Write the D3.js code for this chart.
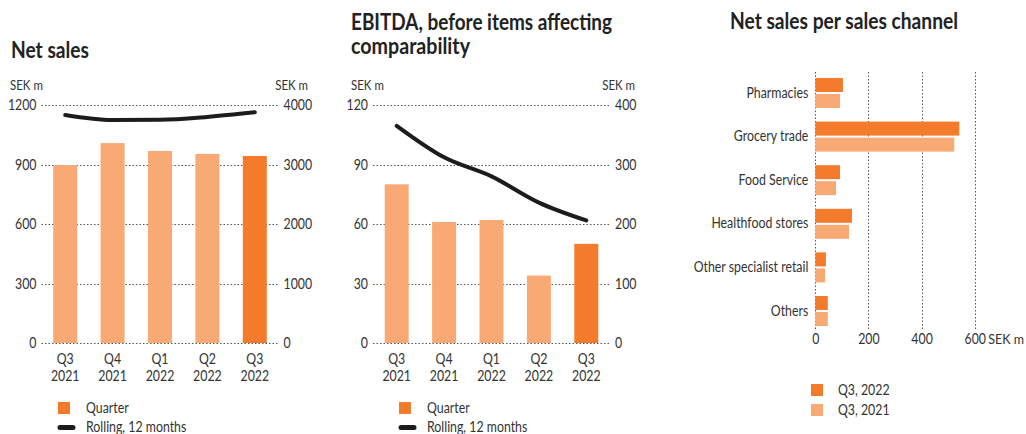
<!DOCTYPE html>
<html><head><meta charset="utf-8">
<script src="https://cdn.jsdelivr.net/npm/d3@7"></script>
<style>
body{margin:0;background:#fff}
svg text{font-family:"Lato",sans-serif;fill:#333}
.title{font-weight:bold;fill:#222;font-size:22px}
</style>
</head><body><svg id="c" width="1026" height="434"></svg>
<script>
// ---- data ----
const quarters = ["Q3 2021","Q4 2021","Q1 2022","Q2 2022","Q3 2022"];
const netSalesQuarter = [897, 1008, 968, 953, 943];
const netSalesRolling = [3832, 3748, 3752, 3800, 3877];
const netSalesLeftTicks = [0, 300, 600, 900, 1200];
const netSalesRightTicks = [0, 1000, 2000, 3000, 4000];
const ebitdaQuarter = [80, 61, 62, 34, 50];
const ebitdaRolling = [365, 312, 280, 236, 206];
const ebitdaLeftTicks = [0, 30, 60, 90, 120];
const ebitdaRightTicks = [0, 100, 200, 300, 400];
const channels = ["Pharmacies","Grocery trade","Food Service","Healthfood stores","Other specialist retail","Others"];
const channelQ3_2022 = [104, 542, 93, 138, 40, 47];
const channelQ3_2021 = [93, 523, 78, 127, 37, 47];
const channelTicks = [0, 200, 400, 600];
const seriesNames = ["Q3, 2022", "Q3, 2021"];

const DARK = "#F47B2B", LIGHT = "#F9A974", LINE = "#1c1c1c", GRID = "#555";
const svg = d3.select("#c");
const fmt = d3.format("d");

function title(g, x, ys, lines, ws) {
  const t = g.append("text").attr("class", "title");
  lines.forEach((s, i) => t.append("tspan").attr("x", x).attr("y", ys[i])
    .attr("textLength", ws[i]).attr("lengthAdjust", "spacingAndGlyphs").text(s));
}

function combo(cfg) {
  const g = svg.append("g");
  const x = d3.scaleBand().domain(quarters).range(cfg.xr).paddingInner(0.494).paddingOuter(0.247);
  const yL = d3.scaleLinear().domain([0, cfg.lmax]).range([343, 105]);
  const yR = d3.scaleLinear().domain([0, cfg.rmax]).range([343, 105]);
  title(g, cfg.tx, cfg.ty, cfg.title, cfg.tw);
  g.append("text").attr("x", cfg.unitL).attr("y", 85).attr("dy", "0.35em").attr("font-size", 13.5).text("SEK m");
  g.append("text").attr("x", cfg.unitR).attr("y", 85).attr("dy", "0.35em").attr("font-size", 13.5).attr("text-anchor", "end").text("SEK m");
  g.selectAll(".grid").data(cfg.lticks).join("line")
    .attr("x1", cfg.xr[0]).attr("x2", cfg.xr[1] - 1)
    .attr("y1", d => Math.round(yL(d)) + 0.5).attr("y2", d => Math.round(yL(d)) + 0.5)
    .attr("stroke", GRID).attr("stroke-width", 1).attr("stroke-dasharray", "1.5,2");
  const al = g.append("g").attr("transform", `translate(${cfg.xr[0]},0)`)
    .call(d3.axisLeft(yL).tickValues(cfg.lticks).tickFormat(fmt).tickSize(0).tickPadding(5));
  const ar = g.append("g").attr("transform", `translate(${cfg.xr[1] - 1},0)`)
    .call(d3.axisRight(yR).tickValues(cfg.rticks).tickFormat(fmt).tickSize(0).tickPadding(6));
  [al, ar].forEach(a => {
    a.select(".domain").remove();
    a.attr("font-family", null).attr("font-size", null);
    a.selectAll("text").attr("font-size", 14.5).style("fill", "#333");
  });
  g.selectAll(".bar").data(cfg.bars).join("rect")
    .attr("x", (d, i) => x(quarters[i])).attr("width", x.bandwidth())
    .attr("y", d => yL(d)).attr("height", d => yL(0) - yL(d))
    .attr("fill", (d, i) => i === quarters.length - 1 ? DARK : LIGHT);
  const line = d3.line().x((d, i) => x(quarters[i]) + x.bandwidth() / 2).y(d => yR(d)).curve(d3.curveMonotoneX);
  g.append("path").datum(cfg.line).attr("d", line).attr("fill", "none")
    .attr("stroke", LINE).attr("stroke-width", 4).attr("stroke-linecap", "round").attr("stroke-linejoin", "round");
  [0, 1].forEach(k => {
    g.selectAll(".xl" + k).data(quarters).join("text")
      .attr("text-anchor", "middle").attr("font-size", 14.5)
      .attr("x", d => x(d) + x.bandwidth() / 2).attr("y", k ? 376 : 359).attr("dy", "0.35em")
      .text(d => d.split(" ")[k]);
  });
  g.append("rect").attr("x", cfg.lgx).attr("y", 402).attr("width", 12).attr("height", 12).attr("fill", DARK);
  g.append("text").attr("x", cfg.lgx + 28).attr("y", 408).attr("dy", "0.35em").attr("font-size", 14.5).text("Quarter");
  g.append("line").attr("x1", cfg.lgx + 2).attr("x2", cfg.lgx + 15).attr("y1", 427.5).attr("y2", 427.5)
    .attr("stroke", LINE).attr("stroke-width", 5).attr("stroke-linecap", "round");
  g.append("text").attr("x", cfg.lgx + 28).attr("y", 427).attr("dy", "0.35em").attr("font-size", 14.5).text("Rolling, 12 months");
}

combo({ xr: [41.5, 278.5], lmax: 1200, rmax: 4000, lticks: netSalesLeftTicks, rticks: netSalesRightTicks,
  bars: netSalesQuarter, line: netSalesRolling, title: ["Net sales"], tx: 11, ty: [58], tw: [78],
  unitL: 10, unitR: 308, lgx: 58 });
combo({ xr: [373, 610], lmax: 120, rmax: 400, lticks: ebitdaLeftTicks, rticks: ebitdaRightTicks,
  bars: ebitdaQuarter, line: ebitdaRolling, title: ["EBITDA, before items affecting", "comparability"], tx: 351, ty: [30, 54], tw: [261, 119],
  unitL: 351, unitR: 635, lgx: 399 });

// ---- channel chart ----
(function () {
  const g = svg.append("g");
  const x = d3.scaleLinear().domain([0, 600]).range([815.3, 974.7]);
  const y = d3.scaleBand().domain(channels).range([71.2, 332.8]).paddingInner(0.312).paddingOuter(0.156);
  const ys = d3.scaleBand().domain(seriesNames).range([0, y.bandwidth()]).paddingInner(0.125);
  title(g, 730, [29], ["Net sales per sales channel"], [228]);
  g.selectAll(".vg").data(channelTicks).join("line")
    .attr("x1", d => Math.round(x(d)) + 0.5).attr("x2", d => Math.round(x(d)) + 0.5)
    .attr("y1", 72).attr("y2", 330)
    .attr("stroke", GRID).attr("stroke-dasharray", "1.5,2");
  const series = [channelQ3_2022, channelQ3_2021];
  series.forEach((vals, si) => {
    g.selectAll(".b" + si).data(vals).join("rect")
      .attr("x", x(0)).attr("y", (d, i) => y(channels[i]) + ys(seriesNames[si]))
      .attr("width", d => x(d) - x(0)).attr("height", ys.bandwidth())
      .attr("fill", si === 0 ? DARK : LIGHT);
  });
  const ay = g.append("g").attr("transform", `translate(${x(0)},0)`)
    .call(d3.axisLeft(y).tickSize(0).tickPadding(7));
  const ax = g.append("g").attr("transform", "translate(0,330)")
    .call(d3.axisBottom(x).tickValues(channelTicks).tickFormat(fmt).tickSize(0).tickPadding(4));
  [ay, ax].forEach(a => {
    a.select(".domain").remove();
    a.attr("font-family", null).attr("font-size", null);
    a.selectAll("text").attr("font-size", 14.5).style("fill", "#333");
  });
  g.append("text").attr("class", "nc").attr("x", 1024).attr("y", 340).attr("dy", "0.35em")
    .attr("text-anchor", "end").attr("font-size", 12.5).text("SEK m");
  seriesNames.forEach((s, i) => {
    g.append("rect").attr("x", 811).attr("y", 384 + i * 20).attr("width", 12).attr("height", 12).attr("fill", i === 0 ? DARK : LIGHT);
    g.append("text").attr("x", 838).attr("y", 390 + i * 20).attr("dy", "0.35em").attr("font-size", 14.5).text(s);
  });
})();

// condense body text horizontally to match the narrow typeface of the original
svg.selectAll("text:not(.title):not(.nc)").each(function () {
  const L = this.getComputedTextLength();
  this.setAttribute("textLength", (L * 0.85).toFixed(2));
  this.setAttribute("lengthAdjust", "spacingAndGlyphs");
});
</script></body></html>
